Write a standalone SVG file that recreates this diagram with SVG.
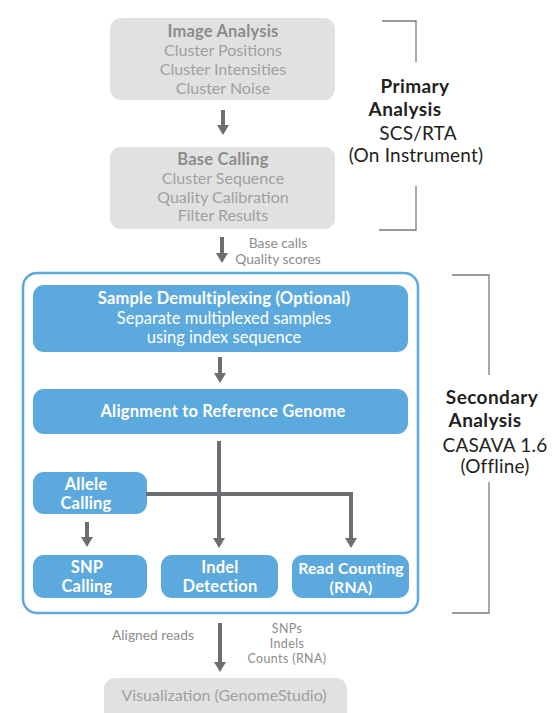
<svg xmlns="http://www.w3.org/2000/svg" width="552" height="713" viewBox="0 0 552 713">
<defs>
<marker id="ah" viewBox="0 0 10 12" refX="1" refY="6" markerWidth="10" markerHeight="12" markerUnits="userSpaceOnUse" orient="auto">
<path d="M0,0 L10,6 L0,12 z" fill="#6d6e71"/>
</marker>
<style>
text{font-family:Lato,"Open Sans","Liberation Sans",sans-serif;text-anchor:middle}
.gbox{fill:#e1e1e2}
.gh{font-size:16.5px;font-weight:bold;fill:#8c8c8c;letter-spacing:0.2px}
.gt{font-size:16px;fill:#a0a0a0}
.bbox{fill:#5ca9dd}
.bh{font-size:16.5px;font-weight:bold;fill:#ffffff;letter-spacing:0.2px}
.bt{font-size:16.5px;fill:#ffffff}
.lbl{font-size:13.8px;fill:#8c8c8c}
.lbs{font-size:12.4px;fill:#8c8c8c;letter-spacing:0.4px}
.conn{stroke:#6d6e71;stroke-width:4;fill:none;marker-end:url(#ah)}
.brk{stroke:#7a7a7a;stroke-width:1.3;fill:none}
.sh{font-size:19px;font-weight:bold;fill:#231f20;letter-spacing:0.4px}
.st{font-size:19px;fill:#231f20;letter-spacing:0.2px}
</style>
</defs>
<rect width="552" height="713" fill="#ffffff"/>

<g id="image-analysis">
<rect class="gbox" x="110" y="18" width="225" height="82" rx="11"/>
<text class="gh" x="223" y="37">Image Analysis</text>
<text class="gt" x="223" y="56">Cluster Positions</text>
<text class="gt" x="223" y="75">Cluster Intensities</text>
<text class="gt" x="223" y="94">Cluster Noise</text>
</g>

<g id="base-calling">
<rect class="gbox" x="110" y="147" width="225" height="82" rx="11"/>
<text class="gh" x="223" y="165">Base Calling</text>
<text class="gt" x="223" y="184">Cluster Sequence</text>
<text class="gt" x="223" y="203">Quality Calibration</text>
<text class="gt" x="223" y="221">Filter Results</text>
</g>

<g id="primary-label">
<path class="brk" d="M382,21 H416 V62 M416,186 V230 H379"/>
<text class="sh" x="415" y="93">Primary</text>
<text class="sh" x="405" y="116">Analysis</text>
<text class="st" x="418" y="140">SCS/RTA</text>
<text class="st" x="416" y="162">(On Instrument)</text>
</g>

<g id="secondary-container">
<rect x="23" y="273" width="395" height="340" rx="14" fill="none" stroke="#5ca9dd" stroke-width="2.5"/>
</g>

<g id="demultiplexing">
<rect class="bbox" x="33" y="285" width="375" height="67" rx="11"/>
<text class="bh" x="224" y="304">Sample Demultiplexing (Optional)</text>
<text class="bt" x="224" y="324">Separate multiplexed samples</text>
<text class="bt" x="224" y="343">using index sequence</text>
</g>

<g id="alignment">
<rect class="bbox" x="33" y="389" width="375" height="45" rx="11"/>
<text class="bh" x="223" y="417">Alignment to Reference Genome</text>
</g>

<g id="allele-calling">
<rect class="bbox" x="33" y="472" width="114" height="42" rx="11"/>
<text class="bh" x="86" y="490">Allele</text>
<text class="bh" x="86" y="509">Calling</text>
</g>

<g id="snp-calling">
<rect class="bbox" x="33" y="555" width="114" height="43" rx="11"/>
<text class="bh" x="87" y="573">SNP</text>
<text class="bh" x="87" y="592">Calling</text>
</g>

<g id="indel-detection">
<rect class="bbox" x="161" y="555" width="117" height="43" rx="11"/>
<text class="bh" x="220" y="573">Indel</text>
<text class="bh" x="220" y="592">Detection</text>
</g>

<g id="read-counting">
<rect class="bbox" x="292" y="555" width="117" height="43" rx="11"/>
<text class="bh" x="351" y="574" style="font-size:15.8px">Read Counting</text>
<text class="bh" x="351" y="593" style="font-size:15.8px">(RNA)</text>
</g>

<g id="secondary-label">
<path class="brk" d="M452,275 H489 V375 M489,482 V613 H452"/>
<text class="sh" x="492" y="404">Secondary</text>
<text class="sh" x="485" y="427">Analysis</text>
<text class="st" x="495" y="452">CASAVA 1.6</text>
<text class="st" x="495" y="473">(Offline)</text>
</g>

<g id="visualization">
<rect class="gbox" x="104" y="678" width="243" height="50" rx="11"/>
<text class="gt" x="224" y="701">Visualization (GenomeStudio)</text>
</g>

<g id="connectors">
<line class="conn" x1="223" y1="110" x2="223" y2="126"/>
<line class="conn" x1="222" y1="237" x2="222" y2="254"/>
<line class="conn" x1="220" y1="357" x2="220" y2="374"/>
<line class="conn" x1="219" y1="441" x2="219" y2="539"/>
<polyline class="conn" points="146,494 351,494 351,539"/>
<line class="conn" x1="87" y1="522" x2="87" y2="538"/>
<line class="conn" x1="220" y1="623" x2="220" y2="663"/>
<text class="lbl" x="278" y="248">Base calls</text>
<text class="lbl" x="278" y="264">Quality scores</text>
<text class="lbl" x="153" y="640">Aligned reads</text>
<text class="lbs" x="287" y="633">SNPs</text>
<text class="lbs" x="287" y="648">Indels</text>
<text class="lbs" x="287" y="663">Counts (RNA)</text>
</g>
</svg>
